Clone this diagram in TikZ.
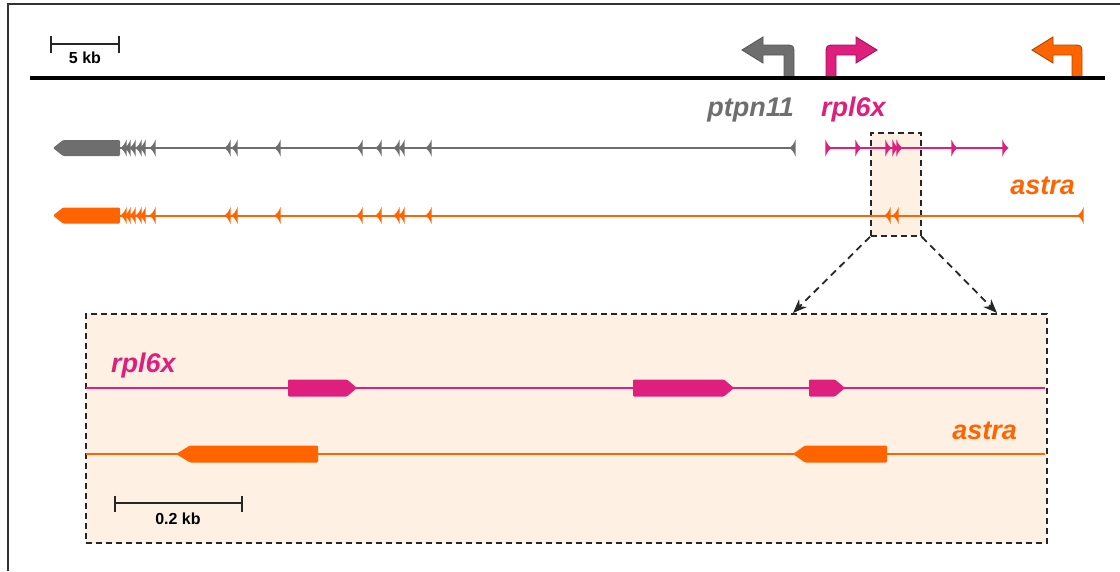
\documentclass[tikz,border=0pt]{standalone}
\usepackage{fontspec}
\setmainfont{Liberation Sans}
\usetikzlibrary{arrows.meta}

\definecolor{geneGray}{HTML}{6E6E6E}
\definecolor{genePink}{HTML}{DE1F7E}
\definecolor{geneOrange}{HTML}{FF6400}
\definecolor{zoomFill}{HTML}{FEF1E3}

\tikzset{
  track/.style={line width=2pt},
  genelabel/.style={inner sep=0pt, font=\fontsize{27}{27}\selectfont\bfseries\itshape},
  scalelabel/.style={inner sep=0pt, font=\fontsize{16}{16}\selectfont\bfseries},
  scalebar/.style={line width=2.4pt, black!85},
  zoomframe/.style={draw=black!85, line width=1.8pt, fill=zoomFill, dash pattern=on 6pt off 4pt, inner sep=0pt},
  zoomlink/.style={line width=1.8pt, black!85, dash pattern=on 7pt off 5pt, -{Stealth[length=14pt,width=11pt]}},
  promoter/.style={line width=0.9pt},
}

% small exon marks: right edge / left edge x, y, colour
\newcommand\revmark[3]{%
  \fill[#3] (#1+0.6,#2-8.5) .. controls (#1-2,#2-3) .. (#1-5.5,#2)
            .. controls (#1-2,#2+3) .. (#1+0.6,#2+8.5) -- cycle;}
\newcommand\fwdmark[3]{%
  \fill[#3] (#1-0.6,#2-8.5) .. controls (#1+2,#2-3) .. (#1+5.5,#2)
            .. controls (#1+2,#2+3) .. (#1-0.6,#2+8.5) -- cycle;}
% exon blocks: tip x, shoulder x, flat end x, y, half height, colour
\newcommand\exonblock[6]{%
  \fill[#6, rounded corners=1.2pt] (#1,#4) -- (#2,#4-#5) -- (#3,#4-#5)
        -- (#3,#4+#5) -- (#2,#4+#5) -- cycle;}
% promoter arrows: stem x, arm y, tip x, fill, outline
\newcommand\promleft[5]{%
  \filldraw[promoter, fill=#4, draw=#5] (#1+5,78) -- (#1+5,#2+5)
    .. controls (#1+5,#2-5) .. (#1-5,#2-5) -- (#3+21,#2-5)
    -- (#3+21,#2-13) -- (#3,#2) -- (#3+21,#2+13) -- (#3+21,#2+5)
    -- (#1-5,#2+5) -- (#1-5,78) -- cycle;}
\newcommand\promright[5]{%
  \filldraw[promoter, fill=#4, draw=#5] (#1-5,78) -- (#1-5,#2+5)
    .. controls (#1-5,#2-5) .. (#1+5,#2-5) -- (#3-21,#2-5)
    -- (#3-21,#2-13) -- (#3,#2) -- (#3-21,#2+13) -- (#3-21,#2+5)
    -- (#1+5,#2+5) -- (#1+5,78) -- cycle;}

\begin{document}
\begin{tikzpicture}[x=1pt,y=-1pt]
\useasboundingbox (0,0) rectangle (1120,571);

% outer frame
\draw[line width=1.6pt, black!80] (8,571) -- (8,4) -- (1120,4);

% 5 kb scale bar
\draw[scalebar] (51,35.5) -- (51,52.5) (51,44) -- (119,44) (119,35.5) -- (119,52.5);
\node[scalelabel] (kb5) at (85,58) {5 kb};

% promoters on the chromosome
\promleft{789}{50}{742}{geneGray}{black!65}
\promright{831}{50}{877}{genePink}{genePink!70!black}
\promleft{1077}{50}{1032}{geneOrange}{geneOrange!70!black}
\draw[line width=3.8pt] (30,78) -- (1105,78);

% gene names
\node[genelabel, text=geneGray, anchor=base east] (lptpn) at (794,116) {ptpn11};
\node[genelabel, text=genePink, anchor=base west] (lrpl) at (821,116) {rpl6x};
\node[genelabel, text=geneOrange, anchor=base east] (lastra) at (1075,194) {astra};

% selected window
\node[zoomframe, anchor=north west, minimum width=50pt, minimum height=103pt] (sel) at (870,132) {};

% ptpn11 model
\draw[track, geneGray] (60,148) -- (795,148);
\exonblock{53}{63}{120}{148}{8}{geneGray}
\foreach \x in {126,130,135,141,145,155,230,237,280,362,381,399,404,431,795}
  {\revmark{\x}{148}{geneGray}}

% rpl6x model
\draw[track, genePink] (826,148) -- (1004,148);
\foreach \x in {826,856,886,893,897,952,1003}
  {\fwdmark{\x}{148}{genePink}}

% astra model
\draw[track, geneOrange] (60,215.5) -- (1083,215.5);
\exonblock{53}{63}{120}{215.5}{8}{geneOrange}
\foreach \x in {126,130,135,141,145,155,230,237,280,362,381,399,404,431,890,898,1083}
  {\revmark{\x}{215.5}{geneOrange}}

% enlarged window
\node[zoomframe, anchor=north west, minimum width=961pt, minimum height=229pt] (zbox) at (85,313) {};
\coordinate (zl) at (793,313);
\coordinate (zr) at (997,313);
\draw[zoomlink] (sel.south west) -- (zl);
\draw[zoomlink] (sel.south east) -- (zr);

% enlarged rpl6x
\draw[track, genePink] (86,388) -- (1045,388);
\exonblock{357}{347}{288}{388}{8.5}{genePink}
\exonblock{734}{724}{633}{388}{8.5}{genePink}
\exonblock{845}{835}{809}{388}{8.5}{genePink}
\node[genelabel, text=genePink, anchor=base west] (zrpl) at (111,372) {rpl6x};

% enlarged astra
\draw[track, geneOrange] (86,454) -- (1045,454);
\exonblock{176}{190}{318}{454}{8.5}{geneOrange}
\exonblock{793}{805}{887}{454}{8.5}{geneOrange}
\node[genelabel, text=geneOrange, anchor=base east] (zastra) at (1017,439) {astra};

% 0.2 kb scale bar
\draw[scalebar] (115,495.5) -- (115,511.5) (115,503) -- (242,503) (242,495.5) -- (242,511.5);
\node[scalelabel] (kb02) at (178,519) {0.2 kb};
\end{tikzpicture}
\end{document}
